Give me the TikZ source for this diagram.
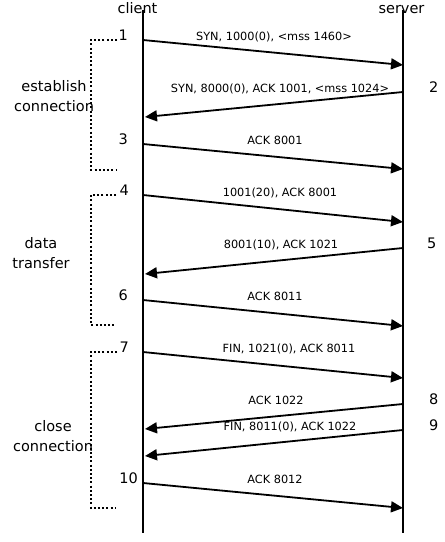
\documentclass[tikz,border=0pt]{standalone}
\usepackage{fontspec}
\setmainfont{DejaVu Sans}
\usetikzlibrary{arrows.meta}

\begin{document}
\begin{tikzpicture}[x=1pt, y=-1pt,
    life/.style={line width=2.2pt},
    msg/.style={line width=1.8pt, -{Triangle[length=12pt,width=11pt]}},
    lbl/.style={inner sep=1pt, text height=8.6pt, text depth=1.5pt, font=\fontsize{11.3}{13}\selectfont},
    num/.style={inner sep=0pt, font=\fontsize{14.5}{18}\selectfont},
    grp/.style={align=center, inner sep=0pt, font=\fontsize{14.5}{20}\selectfont},
    brk/.style={line width=2pt, dash pattern=on 2pt off 2.2pt}]
    \useasboundingbox (0,0) rectangle (445,542);

    \node (client) at (137.5,13) [anchor=base, num] {client};
    \node (server) at (401.5,13) [anchor=base, num] {server};
    \coordinate (ct) at (143,10);
    \coordinate (cb) at (143,533);
    \coordinate (st) at (403,10);
    \coordinate (sb) at (403,533);
    \draw[life] (ct) -- (cb);
    \draw[life] (st) -- (sb);

    \coordinate (c1) at (143,40);   \coordinate (s1) at (403,65);
    \coordinate (s2) at (403,92);   \coordinate (c2) at (145,117);
    \coordinate (c3) at (143,144);  \coordinate (s3) at (403,169);
    \coordinate (c4) at (143,195);  \coordinate (s4) at (403,222);
    \coordinate (s5) at (403,248);  \coordinate (c5) at (145,274);
    \coordinate (c6) at (143,300);  \coordinate (s6) at (403,326);
    \coordinate (c7) at (143,352);  \coordinate (s7) at (403,378);
    \coordinate (s8) at (403,404);  \coordinate (c8) at (145,429);
    \coordinate (s9) at (403,430);  \coordinate (c9) at (145,456);
    \coordinate (c10) at (143,483); \coordinate (s10) at (403,508);

    \node (n1) at (128,40) [anchor=base east, num] {1};
    \node (n2) at (429,92) [anchor=base west, num] {2};
    \node (n3) at (128,144) [anchor=base east, num] {3};
    \node (n4) at (129,195) [anchor=base east, num] {4};
    \node (n5) at (427,248) [anchor=base west, num] {5};
    \node (n6) at (128,300) [anchor=base east, num] {6};
    \node (n7) at (129,352) [anchor=base east, num] {7};
    \node (n8) at (429,404) [anchor=base west, num] {8};
    \node (n9) at (429,430) [anchor=base west, num] {9};
    \node (n10) at (138,483) [anchor=base east, num] {10};

    \draw[msg] (c1) -- node [lbl, midway, above=9pt, xshift=1pt] {SYN, 1000(0), <mss 1460>} (s1);
    \draw[msg] (s2) -- node [lbl, midway, above=9pt, xshift=6pt] {SYN, 8000(0), ACK 1001, <mss 1024>} (c2);
    \draw[msg] (c3) -- node [lbl, midway, above=9pt, xshift=2pt] {ACK 8001} (s3);
    \draw[msg] (c4) -- node [lbl, midway, above=9pt, xshift=7pt] {1001(20), ACK 8001} (s4);
    \draw[msg] (s5) -- node [lbl, midway, above=9pt, xshift=7pt] {8001(10), ACK 1021} (c5);
    \draw[msg] (c6) -- node [lbl, midway, above=9pt, xshift=2pt] {ACK 8011} (s6);
    \draw[msg] (c7) -- node [lbl, midway, above=9pt, xshift=16pt] {FIN, 1021(0), ACK 8011} (s7);
    \draw[msg] (s8) -- node [lbl, midway, above=9pt, xshift=2pt] {ACK 1022} (c8);
    \draw[msg] (s9) -- node [lbl, midway, above=9pt, xshift=16pt] {FIN, 8011(0), ACK 1022} (c9);
    \draw[msg] (c10) -- node [lbl, midway, above=9pt, xshift=2pt] {ACK 8012} (s10);

    % phase brackets
    \coordinate (e1) at (117,40);  \coordinate (e2) at (116,170);
    \coordinate (d1) at (116,195); \coordinate (d2) at (116,325);
    \coordinate (f1) at (117,352); \coordinate (f2) at (116,508);
    \draw[brk] (e1) -- (91,40) |- (e2);
    \draw[brk] (d1) -- (91,195) |- (d2);
    \draw[brk] (f1) -- (91,352) |- (f2);

    \node (establish) at (54,96) [grp] {establish\\connection};
    \node (transfer) at (41,253) [grp] {data\\transfer};
    \node (closing) at (53,436) [grp] {close\\connection};
\end{tikzpicture}
\end{document}
